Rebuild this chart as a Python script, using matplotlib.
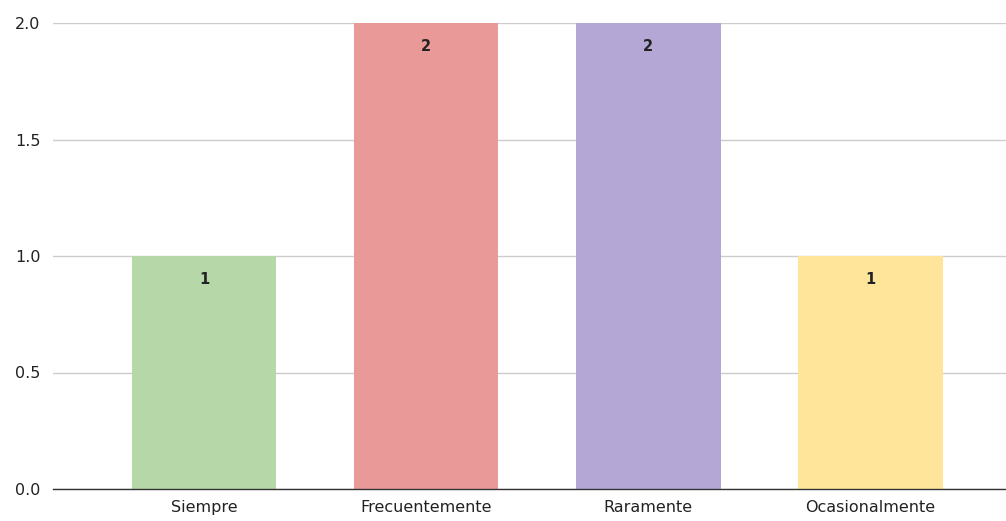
import numpy as np
import matplotlib.pyplot as plt

plt.rcParams['font.family'] = ['DejaVu Sans']

categorias = ['Siempre', 'Frecuentemente', 'Raramente', 'Ocasionalmente']
valores = [1, 2, 2, 1]
colores = ['#b6d7a8', '#ea9999', '#b4a7d6', '#ffe599']

fig = plt.figure(figsize=(10.06, 5.21), dpi=100)
ax = fig.add_axes([53 / 1006, 1 - 489 / 521, 1 - 53 / 1006, (489 - 23) / 521])

x = np.arange(len(categorias))
bars = ax.bar(x, valores, width=0.65, color=colores, zorder=2)

for b, v in zip(bars, valores):
    ax.annotate(str(v), (b.get_x() + b.get_width() / 2, v),
                xytext=(0, -17), textcoords='offset points',
                ha='center', va='center', fontsize=10.5, fontweight='bold',
                color='#222222', zorder=3)

ax.set_xlim(-0.68, 3.61)
ax.set_ylim(0, 2)
ax.set_yticks([0, 0.5, 1.0, 1.5, 2.0])
ax.set_yticklabels(['0.0', '0.5', '1.0', '1.5', '2.0'])
ax.set_xticks(x)
ax.set_xticklabels(categorias)
ax.grid(axis='y', color='#cccccc', linewidth=1, zorder=0)
ax.tick_params(axis='both', length=0, labelsize=11.5, colors='#222222')
ax.tick_params(axis='y', pad=9)
ax.tick_params(axis='x', pad=8)

for s in ['top', 'right', 'left']:
    ax.spines[s].set_visible(False)
ax.spines['bottom'].set_color('#333333')
ax.spines['bottom'].set_linewidth(1)
ax.spines['bottom'].set_zorder(3)

fig.savefig('out.png', dpi=100)
